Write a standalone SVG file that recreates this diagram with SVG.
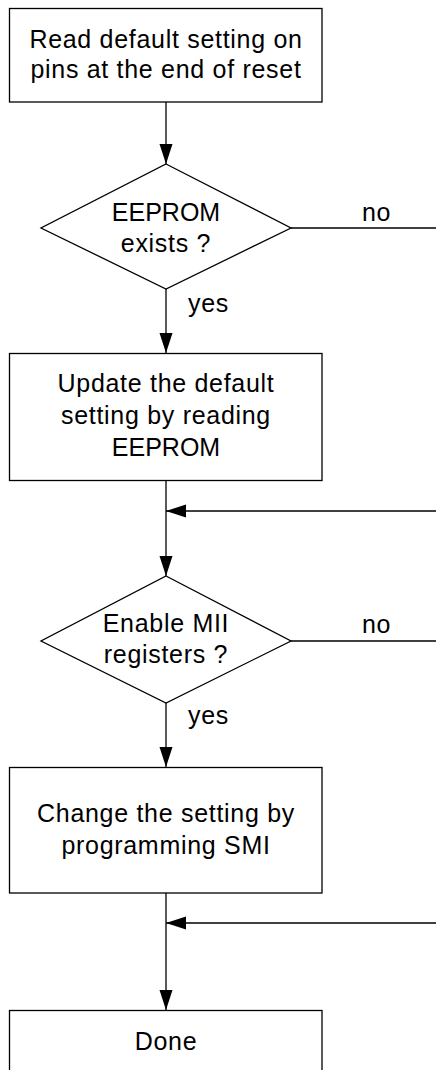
<svg xmlns="http://www.w3.org/2000/svg" width="436" height="1070" viewBox="0 0 436 1070">
<defs>
<style>
.n{fill:#fff;stroke:#000;stroke-width:1.3}
.t{font-family:"Liberation Sans",Arial,sans-serif;font-size:25px;letter-spacing:0.7px;fill:#000;text-anchor:middle}
.u{letter-spacing:0}
.l{font-family:"Liberation Sans",Arial,sans-serif;font-size:25px;letter-spacing:0.7px;fill:#000}
.c{fill:none;stroke:#000;stroke-width:1.3}
</style>
<marker id="ah" markerUnits="userSpaceOnUse" markerWidth="22" markerHeight="14" refX="20" refY="6.5" orient="auto">
<path d="M0,0 L20,6.5 L0,13 Z" fill="#000"/>
</marker>
</defs>
<rect width="436" height="1070" fill="#fff"/>
<g id="connectors">
<line class="c" x1="166" y1="102" x2="166" y2="164" marker-end="url(#ah)"/>
<line class="c" x1="291" y1="228" x2="436" y2="228"/>
<line class="c" x1="166" y1="289" x2="166" y2="353" marker-end="url(#ah)"/>
<line class="c" x1="166" y1="480" x2="166" y2="576" marker-end="url(#ah)"/>
<line class="c" x1="436" y1="511" x2="166" y2="511" marker-end="url(#ah)"/>
<line class="c" x1="291" y1="641" x2="436" y2="641"/>
<line class="c" x1="166" y1="703" x2="166" y2="767" marker-end="url(#ah)"/>
<line class="c" x1="166" y1="893" x2="166" y2="1010" marker-end="url(#ah)"/>
<line class="c" x1="436" y1="923" x2="166" y2="923" marker-end="url(#ah)"/>
<text class="l" x="362" y="221">no</text>
<text class="l" x="188" y="312">yes</text>
<text class="l" x="362" y="633">no</text>
<text class="l" x="188" y="724">yes</text>
</g>
<g id="n1">
<rect class="n" x="9.5" y="8.5" width="312.5" height="93.5"/>
<text class="t" x="166" y="48">Read default setting on</text>
<text class="t" x="166" y="78">pins at the end of reset</text>
</g>
<g id="d1">
<polygon class="n" points="166,164 291,228 166,289 41,228"/>
<text class="t u" x="166" y="221">EEPROM</text>
<text class="t" x="166" y="252">exists ?</text>
</g>
<g id="n2">
<rect class="n" x="9.5" y="353.5" width="312.5" height="127"/>
<text class="t" x="166" y="392">Update the default</text>
<text class="t" x="166" y="424">setting by reading</text>
<text class="t u" x="166" y="456">EEPROM</text>
</g>
<g id="d2">
<polygon class="n" points="166,576 291,641 166,703 41,641"/>
<text class="t" x="166" y="632">Enable MII</text>
<text class="t" x="166" y="663">registers ?</text>
</g>
<g id="n3">
<rect class="n" x="9.5" y="767.5" width="312.5" height="125.5"/>
<text class="t" x="166" y="822">Change the setting by</text>
<text class="t" x="166" y="854">programming SMI</text>
</g>
<g id="n4">
<rect class="n" x="9.5" y="1010.5" width="312.5" height="94"/>
<text class="t" x="166" y="1050">Done</text>
</g>
</svg>
